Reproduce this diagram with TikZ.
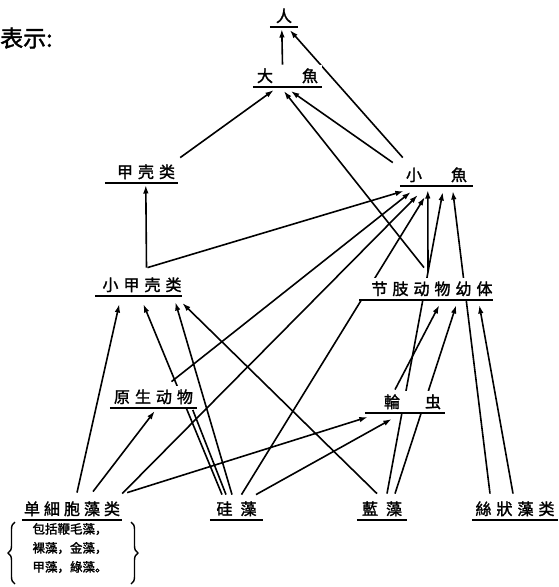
\documentclass[tikz,border=0pt]{standalone}
\usepackage{fontspec}
\newfontfamily\cjk[FakeBold=1.6]{Noto Sans CJK SC}
\usetikzlibrary{arrows.meta,backgrounds,decorations.pathreplacing,calc}
\newcommand\cg{\hspace{5pt}}
\begin{document}
\begin{tikzpicture}[x=1pt,y=-1pt,
  lbl/.style={font=\cjk\fontsize{16pt}{18pt}\selectfont, inner sep=0pt,
    minimum height=22pt, anchor=south, fill=white},
  bar/.style={line width=2.6pt},
  link/.style={line width=1.6pt, -{Latex[length=8.5pt,width=5.5pt]}},
  plain/.style={line width=1.6pt},
  note/.style={font=\cjk\fontsize{12.5pt}{19pt}\selectfont, align=left, inner sep=0pt},
  brc/.style={line width=1.4pt, decorate, decoration={brace, amplitude=7pt}},
]
\useasboundingbox (0,0) rectangle (558,587);

% labels
\node[lbl, minimum width=28pt] (ren) at (284,27) {人};
\node[lbl, minimum width=69pt] (dayu) at (287.5,87) {大\hspace{29pt}魚};
\node[lbl, minimum width=73pt] (jiake) at (141.5,183) {\hspace{9pt}甲\cg 壳\cg 类};
\node[lbl, minimum width=73pt] (xiaoyu) at (436.5,186) {小\hspace{29pt}魚\hspace{9pt}};
\node[lbl, minimum width=83pt] (xjk) at (138.5,296) {\hspace{7pt}小\cg 甲\cg 壳\cg 类};
\node[lbl, minimum width=132pt] (jz) at (426,300) {\hspace{12pt}节\cg 肢\cg 动\cg 物\cg 幼\cg 体};
\node[lbl, minimum width=87pt] (ys) at (153.5,408) {原\cg 生\cg 动\cg 物};
\node[lbl, minimum width=80pt] (lc) at (405,413) {\hspace{15pt}輪\hspace{25pt}虫};
\node[lbl, minimum width=100pt] (dx) at (72,520) {单\hspace{4pt}細\hspace{4pt}胞\hspace{4pt}藻\hspace{4pt}类};
\node[lbl, minimum width=53pt] (gz) at (236.5,520) {硅\hspace{8pt}藻\hspace{7pt}};
\node[lbl, minimum width=50pt] (lz) at (382,520) {藍\hspace{8pt}藻};
\node[lbl, minimum width=86pt] (sz) at (515,520) {絲\cg 狀\cg 藻\cg 类};

\foreach \n in {ren,dayu,jiake,xiaoyu,xjk,jz,ys,lc,dx,gz,lz,sz}
  \draw[bar] (\n.south west) -- (\n.south east);

% intro text
\node[font=\cjk\fontsize{23pt}{26pt}\selectfont, anchor=west, inner sep=0pt] (intro) at (0,38) {表示:};

% note with braces
\node[note] (note) at (70,548) {包括鞭毛藻，\\裸藻，金藻，\\甲藻，綠藻。};
\coordinate (lb1) at (15,584);
\coordinate (lb2) at (15,522);
\coordinate (rb1) at (131,522);
\coordinate (rb2) at (131,584);
\draw[brc] (lb1) -- (lb2);
\draw[brc] (rb1) -- (rb2);

\begin{scope}[on background layer]
\fill[white] (0,0) rectangle (558,587);
% to ren
\draw[link] ($(dayu.north)+(-5,0)$) -- ($(ren.south west)+(12,2)$);
\draw[link] ($(xiaoyu.north west)+(3,-6)$) -- ($(ren.south west)+(20,3)$);
% to dayu
\draw[link] ($(jiake.north east)+(2,-3)$) -- ($(dayu.south west)+(21,3)$);
\draw[link] ($(xiaoyu.north west)+(-7,-1)$) -- ($(dayu.south west)+(38,4)$);
\draw[link] ($(jz.north)+(-2,-10)$) -- ($(dayu.south west)+(31,4)$);
% to jiake
\draw[link] ($(xjk.north)+(8,-6)$) -- ($(jiake.south west)+(41,2)$);
% to xiaoyu
\draw[link] ($(xjk.north)+(9,-6)$) -- ($(xiaoyu.south west)+(4,5)$);
\draw[link] ($(ys.north)+(18,-4)$) -- ($(xiaoyu.south west)+(11,6)$);
\draw[link] ($(dx.north east)+(0,-4)$) -- ($(xiaoyu.south west)+(18,9)$);
\draw[link] ($(gz.north)+(5,-3)$) -- ($(xiaoyu.south west)+(25,11)$);
\draw[link] ($(jz.north)+(2,-6)$) -- ($(xiaoyu.south west)+(28,4)$);
\draw[link] ($(lz.north)+(5,-4)$) -- ($(xiaoyu.south west)+(43,6)$);
\draw[link] ($(sz.north)+(-25,-4)$) -- ($(xiaoyu.south west)+(53,5)$);
% to jz
\draw[link] ($(lc.north)+(-10,-1)$) -- ($(jz.south west)+(80,5)$);
\draw[link] ($(lz.north)+(13,-4)$) -- ($(jz.south west)+(97,5)$);
\draw[link] ($(sz.north)+(-2,-4)$) -- ($(jz.south west)+(120,5)$);
% to xjk
\draw[link] ($(dx.north)+(5,-5)$) -- ($(xjk.south west)+(24,8)$);
\draw[link] ($(gz.north)+(-14.5,-3)$) -- ($(xjk.south west)+(48,8)$);
\draw[link] ($(gz.north)+(-4.5,-3)$) -- ($(xjk.south west)+(80,6)$);
\draw[link] ($(lz.north)+(-5,-4)$) -- ($(xjk.south west)+(87,7)$);
% to ys
\draw[link] ($(dx.north)+(21,-6)$) -- ($(ys.south west)+(45,3)$);
\draw[plain] ($(gz.north)+(-10.5,-3)$) -- ($(ys.south west)+(83,2)$);
% to lc
\draw[link] ($(dx.north east)+(5,-5)$) -- ($(lc.south west)+(3,4)$);
\draw[link] ($(gz.north)+(19.5,-3)$) -- ($(lc.south west)+(27,6)$);
\end{scope}
\end{tikzpicture}
\end{document}
